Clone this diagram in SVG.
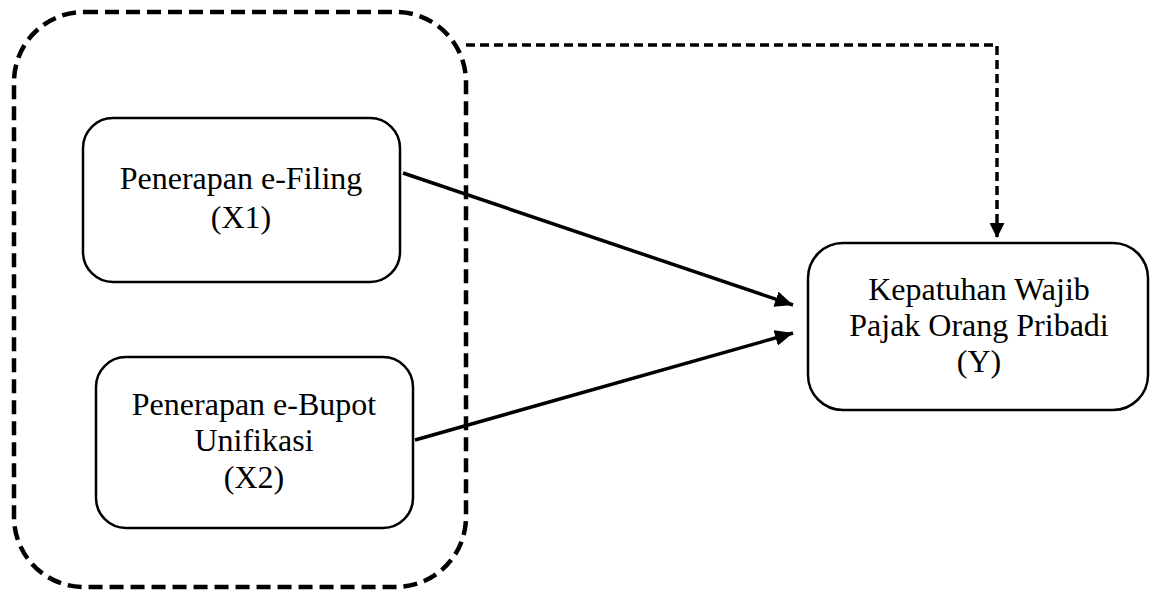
<svg xmlns="http://www.w3.org/2000/svg" width="1150" height="591" viewBox="0 0 1150 591">
  <defs>
    <style>
      .node { fill: #ffffff; stroke: #000000; stroke-width: 2.5; }
      .label { font-family: "Liberation Serif", "Times New Roman", serif; font-size: 32px; fill: #000000; text-anchor: middle; }
      .solid { fill: none; stroke: #000000; stroke-width: 3.5; }
      .dashed { fill: none; stroke: #000000; stroke-width: 3.5; stroke-dasharray: 9 5; }
      .group { fill: none; stroke: #000000; stroke-width: 4.5; stroke-dasharray: 14 7; }
    </style>
    <marker id="arrow" markerUnits="userSpaceOnUse" markerWidth="19" markerHeight="16" refX="18" refY="8" orient="auto">
      <path d="M0,0 L18,8 L0,16 z" fill="#000000"/>
    </marker>
    <marker id="arrowD" markerUnits="userSpaceOnUse" markerWidth="16" markerHeight="15" refX="15" refY="7.5" orient="auto">
      <path d="M0,0 L15,7.5 L0,15 z" fill="#000000"/>
    </marker>
  </defs>

  <g id="independent-group">
    <rect class="group" x="14" y="12" width="452" height="575" rx="70" ry="70"/>
  </g>

  <g id="node-x1">
    <rect class="node" x="83" y="118" width="317" height="164" rx="30" ry="30"/>
    <text class="label" x="241" y="189">Penerapan e-Filing</text>
    <text class="label" x="241" y="228">(X1)</text>
  </g>

  <g id="node-x2">
    <rect class="node" x="96" y="357" width="317" height="171" rx="30" ry="30"/>
    <text class="label" x="254" y="415">Penerapan e-Bupot</text>
    <text class="label" x="254" y="451">Unifikasi</text>
    <text class="label" x="254" y="488">(X2)</text>
  </g>

  <g id="node-y">
    <rect class="node" x="808" y="243" width="340" height="167" rx="35" ry="35"/>
    <text class="label" x="979" y="300">Kepatuhan Wajib</text>
    <text class="label" x="979" y="336">Pajak Orang Pribadi</text>
    <text class="label" x="979" y="372">(Y)</text>
  </g>

  <g id="connectors">
    <line class="solid" x1="403" y1="173" x2="793" y2="305" marker-end="url(#arrow)"/>
    <line class="solid" x1="415" y1="440" x2="793" y2="333" marker-end="url(#arrow)"/>
    <polyline class="dashed" points="466,45 997,45 997,238" marker-end="url(#arrowD)"/>
  </g>
</svg>
